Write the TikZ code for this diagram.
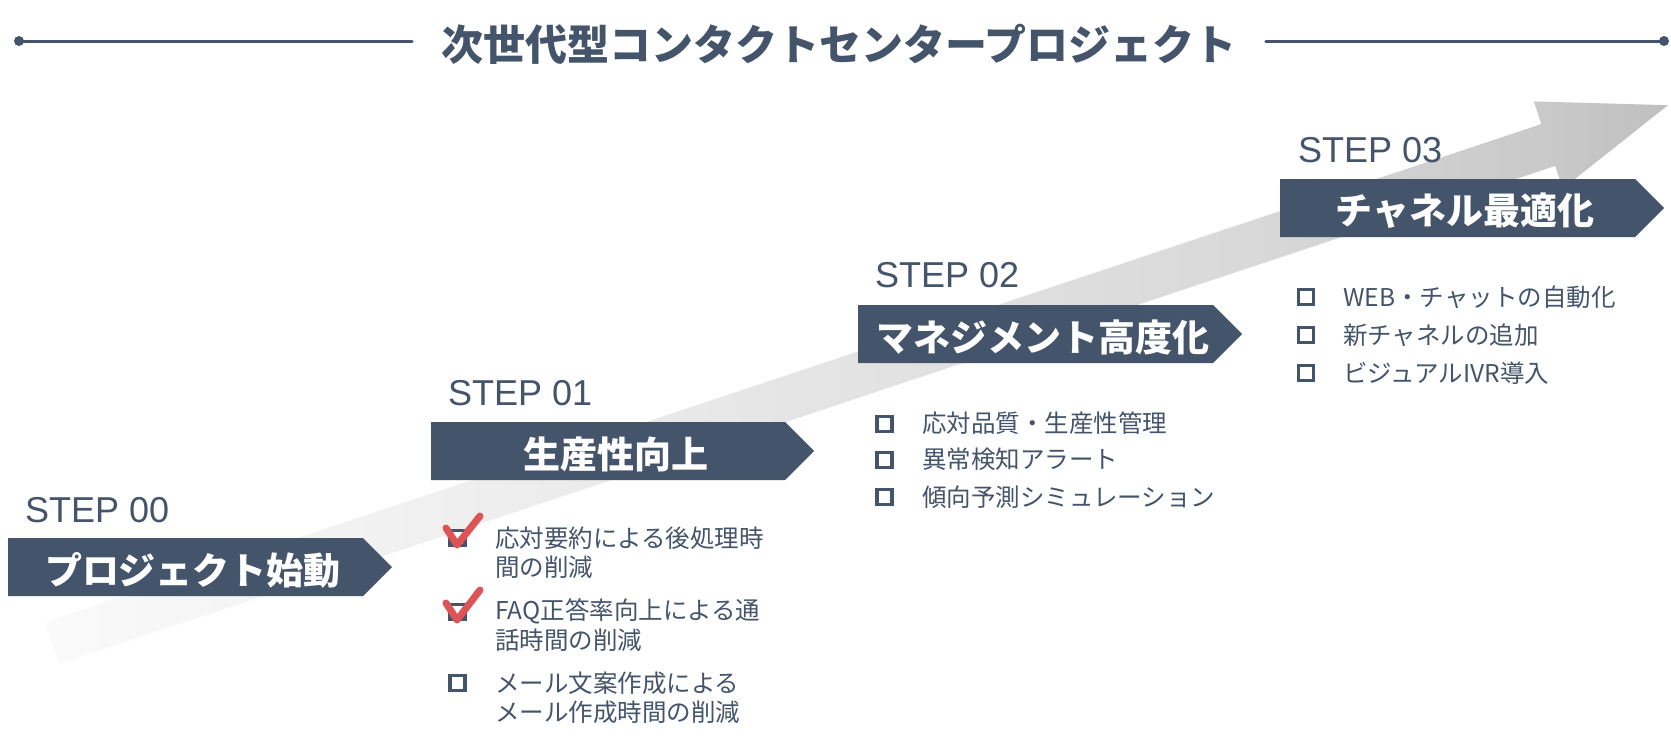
\documentclass[tikz,border=0pt]{standalone}
\usepackage{fontspec}
\setmainfont{Liberation Sans}
\newfontfamily\jpfont{Noto Sans CJK JP}
\newfontfamily\stepfont{Liberation Sans}
\usepackage{tikz}
\definecolor{slate}{HTML}{44546A}
\definecolor{checkred}{HTML}{DE5356}
\pgfdeclarehorizontalshading{arrowfade}{100bp}{color(0bp)=(black!2); color(25bp)=(black!2); color(37bp)=(black!6); color(50bp)=(black!11); color(62bp)=(black!15); color(71bp)=(black!21); color(75bp)=(black!25); color(100bp)=(black!25)}

\begin{document}
\begin{tikzpicture}[line cap=round,line join=round,x=1pt,y=-1pt,
  banner/.style={fill=slate},
  bannertext/.style={text=white,inner sep=0,font=\jpfont\bfseries\fontsize{37}{40}\selectfont},
  steplabel/.style={anchor=base west,text=slate,inner sep=0,font=\stepfont\fontsize{36}{40}\selectfont},
  itemtext/.style={anchor=west,text=slate,inner sep=0,align=left,font=\jpfont\fontsize{24.5}{29.5}\selectfont},
  itembox/.style={draw=slate,line width=3.5pt,line cap=butt,line join=miter},
  checkmark/.style={draw=checkred,line width=7pt},
  titleline/.style={draw=slate,line width=3pt}]
\fill[white] (0,0) rectangle (1671,745);
\useasboundingbox (0,0) rectangle (1671,745);

% big arrow
\shade[shading=arrowfade] (45,622.1) -- (1541.4,124.1) -- (1533.8,101.4) -- (1667.9,105.2)
  -- (1562.8,188.6) -- (1555.2,165.9) -- (59,663.9) -- cycle;

% title
\node[text=slate,inner xsep=29pt,inner ysep=0,font=\jpfont\bfseries\fontsize{42}{46}\selectfont] (title) at (839,44) {次世代型コンタクトセンタープロジェクト};
\coordinate (ldot) at (19,41);
\coordinate (rdot) at (1664,41);
\draw[titleline] (ldot) -- (title.west |- ldot);
\draw[titleline] (title.east |- rdot) -- (rdot);
\fill[slate] (ldot) circle (5);
\fill[slate] (rdot) circle (5);

% banners
\fill[banner] (8,538) -- (363,538) -- (392,567) -- (363,596) -- (8,596) -- cycle;
\fill[banner] (431,422) -- (785,422) -- (814,451) -- (785,480) -- (431,480) -- cycle;
\fill[banner] (858,305) -- (1213,305) -- (1242,334) -- (1213,363) -- (858,363) -- cycle;
\fill[banner] (1280,179) -- (1635,179) -- (1664,208) -- (1635,237) -- (1280,237) -- cycle;
\node[bannertext] (b0) at (193,570) {プロジェクト始動};
\node[bannertext] (b1) at (616,454) {生産性向上};
\node[bannertext] (b2) at (1043,337) {マネジメント高度化};
\node[bannertext] (b3) at (1465,211) {チャネル最適化};

% step labels
\node[steplabel] (st0) at (25,522) {STEP 00};
\node[steplabel] (st1) at (448,405) {STEP 01};
\node[steplabel] (st2) at (875,287) {STEP 02};
\node[steplabel] (st3) at (1298,162) {STEP 03};

% step 01
\draw[itembox] (450,530.5) rectangle (465,545.5);
\draw[itembox] (450,604.5) rectangle (465,619.5);
\draw[itembox] (450,675.5) rectangle (465,690.5);
\draw[checkmark] (446,528) -- (457,545) -- (480,516);
\draw[checkmark] (446,603) -- (457,620) -- (480,590);
\node[itemtext] (s1a) at (495,552.5) {応対要約による後処理時\\間の削減};
\node[itemtext] (s1b) at (495,625) {FAQ正答率向上による通\\話時間の削減};
\node[itemtext] (s1c) at (495,698) {メール文案作成による\\メール作成時間の削減};

% step 02
\draw[itembox] (877,416.5) rectangle (892,431.5);
\draw[itembox] (877,452.5) rectangle (892,467.5);
\draw[itembox] (877,489.5) rectangle (892,504.5);
\node[itemtext] (s2a) at (922,423) {応対品質・生産性管理};
\node[itemtext] (s2b) at (922,459) {異常検知アラート};
\node[itemtext] (s2c) at (922,497) {傾向予測シミュレーション};

% step 03
\draw[itembox] (1298.5,289.5) rectangle (1313.5,304.5);
\draw[itembox] (1298.5,327.5) rectangle (1313.5,342.5);
\draw[itembox] (1298.5,365.5) rectangle (1313.5,380.5);
\node[itemtext] (s3a) at (1343,297) {WEB・チャットの自動化};
\node[itemtext] (s3b) at (1343,335) {新チャネルの追加};
\node[itemtext] (s3c) at (1343,373) {ビジュアルIVR導入};
\end{tikzpicture}
\end{document}
